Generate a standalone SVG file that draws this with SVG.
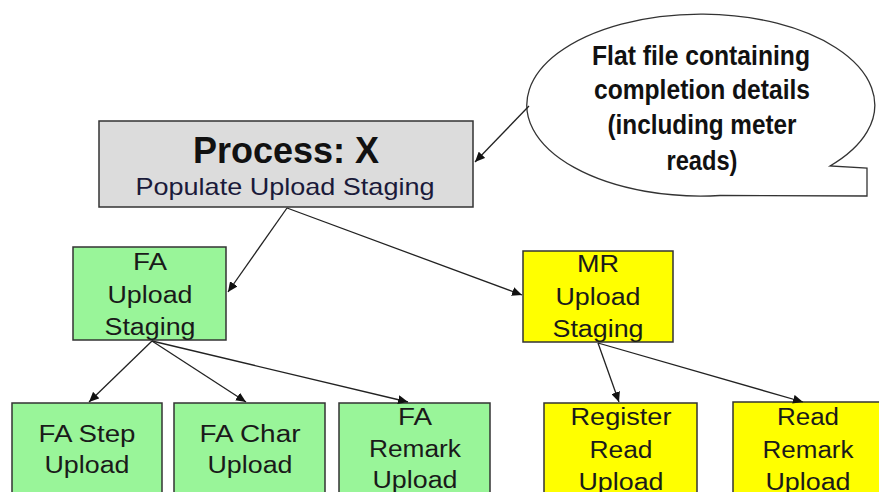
<svg xmlns="http://www.w3.org/2000/svg" width="879" height="492" viewBox="0 0 879 492">
<defs>
<style>
.box{stroke:#333;stroke-width:1.5}
.g{fill:#99f599}
.y{fill:#ffff00}
.gray{fill:#dcdcdc}
.t{font-family:"Liberation Sans",Arial,sans-serif;font-size:23px;fill:#1a1a1a;text-anchor:middle}
.conn{stroke:#222;stroke-width:1.3;fill:none;marker-end:url(#ah)}
.bub{font-family:"Liberation Sans",Arial,sans-serif;font-size:28px;font-weight:bold;fill:#111;text-anchor:middle}
</style>
<marker id="ah" markerUnits="userSpaceOnUse" markerWidth="11" markerHeight="9" refX="10" refY="4.5" orient="auto">
<path d="M0,0 L10,4.5 L0,9 Z" fill="#111"/>
</marker>
</defs>
<rect width="879" height="492" fill="#fff"/>

<g id="bubble">
<path d="M830,166 A174,91 0 1 0 720,195.5 L867,196 L867,168 Z" fill="#fff" stroke="#333" stroke-width="1.3"/>
<text class="bub" x="701" y="65" textLength="218" lengthAdjust="spacingAndGlyphs">Flat file containing</text>
<text class="bub" x="702" y="99" textLength="216" lengthAdjust="spacingAndGlyphs">completion details</text>
<text class="bub" x="702" y="134" textLength="189" lengthAdjust="spacingAndGlyphs">(including meter</text>
<text class="bub" x="702" y="170" textLength="71" lengthAdjust="spacingAndGlyphs">reads)</text>
</g>

<g id="process">
<rect class="box gray" x="99" y="121" width="374" height="86"/>
<text x="286" y="163" font-family="'Liberation Sans',Arial,sans-serif" font-size="36" font-weight="bold" fill="#111" text-anchor="middle">Process: X</text>
<text x="285" y="195" font-family="'Liberation Sans',Arial,sans-serif" font-size="24" fill="#1a1a3a" text-anchor="middle" textLength="299" lengthAdjust="spacingAndGlyphs">Populate Upload Staging</text>
</g>

<g id="fa-staging">
<rect class="box g" x="73" y="247" width="153" height="93"/>
<text class="t" x="150" y="270" textLength="34" lengthAdjust="spacingAndGlyphs">FA</text>
<text class="t" x="150" y="303" textLength="85" lengthAdjust="spacingAndGlyphs">Upload</text>
<text class="t" x="150" y="335" textLength="91" lengthAdjust="spacingAndGlyphs">Staging</text>
</g>

<g id="mr-staging">
<rect class="box y" x="523" y="251" width="150" height="91"/>
<text class="t" x="598" y="272" textLength="42" lengthAdjust="spacingAndGlyphs">MR</text>
<text class="t" x="598" y="305" textLength="85" lengthAdjust="spacingAndGlyphs">Upload</text>
<text class="t" x="598" y="337" textLength="91" lengthAdjust="spacingAndGlyphs">Staging</text>
</g>

<g id="fa-step">
<rect class="box g" x="12" y="403" width="150" height="100"/>
<text class="t" x="87" y="442" textLength="97" lengthAdjust="spacingAndGlyphs">FA Step</text>
<text class="t" x="87" y="473" textLength="85" lengthAdjust="spacingAndGlyphs">Upload</text>
</g>

<g id="fa-char">
<rect class="box g" x="174" y="403" width="151" height="100"/>
<text class="t" x="250" y="442" textLength="101" lengthAdjust="spacingAndGlyphs">FA Char</text>
<text class="t" x="250" y="473" textLength="85" lengthAdjust="spacingAndGlyphs">Upload</text>
</g>

<g id="fa-remark">
<rect class="box g" x="339" y="403" width="151" height="100"/>
<text class="t" x="415" y="425" textLength="34" lengthAdjust="spacingAndGlyphs">FA</text>
<text class="t" x="415" y="457" textLength="92" lengthAdjust="spacingAndGlyphs">Remark</text>
<text class="t" x="415" y="488" textLength="85" lengthAdjust="spacingAndGlyphs">Upload</text>
</g>

<g id="register-read">
<rect class="box y" x="544" y="403" width="153" height="100"/>
<text class="t" x="621" y="425" textLength="101" lengthAdjust="spacingAndGlyphs">Register</text>
<text class="t" x="621" y="458" textLength="63" lengthAdjust="spacingAndGlyphs">Read</text>
<text class="t" x="621" y="490" textLength="85" lengthAdjust="spacingAndGlyphs">Upload</text>
</g>

<g id="read-remark">
<rect class="box y" x="733" y="402" width="160" height="100"/>
<text class="t" x="808" y="425" textLength="62" lengthAdjust="spacingAndGlyphs">Read</text>
<text class="t" x="808" y="458" textLength="91" lengthAdjust="spacingAndGlyphs">Remark</text>
<text class="t" x="808" y="490" textLength="85" lengthAdjust="spacingAndGlyphs">Upload</text>
</g>

<g id="connectors">
<line class="conn" x1="529" y1="106" x2="475" y2="162"/>
<line class="conn" x1="287" y1="208" x2="228" y2="292"/>
<line class="conn" x1="287" y1="208" x2="522" y2="295"/>
<line class="conn" x1="152" y1="341" x2="89" y2="402"/>
<line class="conn" x1="152" y1="341" x2="246" y2="402"/>
<line class="conn" x1="152" y1="341" x2="408" y2="402"/>
<line class="conn" x1="598" y1="343" x2="619" y2="402"/>
<line class="conn" x1="598" y1="343" x2="803" y2="402"/>
</g>
</svg>
